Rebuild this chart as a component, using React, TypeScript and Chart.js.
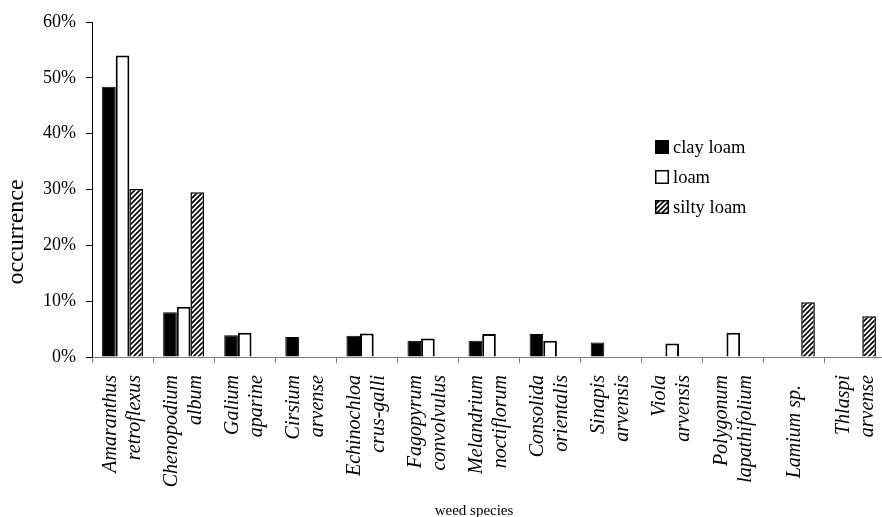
import React, { useEffect, useRef } from "react";
import { Chart, registerables } from "chart.js";

Chart.register(...registerables);

// ---- data ----
const categories: string[][] = [
  ["Amaranthus", "retroflexus"],
  ["Chenopodium", "album"],
  ["Galium", "aparine"],
  ["Cirsium", "arvense"],
  ["Echinochloa", "crus-galli"],
  ["Fagopyrum", "convolvulus"],
  ["Melandrium", "noctiflorum"],
  ["Consolida", "orientalis"],
  ["Sinapis", "arvensis"],
  ["Viola", "arvensis"],
  ["Polygonum", "lapathifolium"],
  ["", "Lamium sp.  "],
  ["Thlaspi", "arvense"],
];
const seriesNames = ["clay loam", "loam", "silty loam"];
const clayLoam: (number | null)[] = [48.4, 8.0, 3.9, 3.6, 3.8, 2.9, 2.9, 4.1, 2.6, null, null, null, null];
const loam: (number | null)[] = [54.0, 9.0, 4.35, null, 4.2, 3.3, 4.1, 2.9, null, 2.4, 4.35, null, null];
const siltyLoam: (number | null)[] = [30.1, 29.5, null, null, null, null, null, null, null, null, null, 9.8, 7.3];
const yTickValues = [0, 10, 20, 30, 40, 50, 60];
const yTitle = "occurrence";
const xTitle = "weed species";

const FAMILY = '"Liberation Serif", "Times New Roman", serif';

function makeHatch(ctx: CanvasRenderingContext2D): CanvasPattern | string {
  const s = 5;
  const c = document.createElement("canvas");
  c.width = s;
  c.height = s;
  const g = c.getContext("2d");
  if (!g) return "#888";
  g.fillStyle = "#fff";
  g.fillRect(0, 0, s, s);
  g.strokeStyle = "#000";
  g.lineWidth = 1.7;
  g.beginPath();
  g.moveTo(-1, s + 1);
  g.lineTo(s + 1, -1);
  g.moveTo(-1, 1);
  g.lineTo(1, -1);
  g.moveTo(s - 1, s + 1);
  g.lineTo(s + 1, s - 1);
  g.stroke();
  return ctx.createPattern(c, "repeat") || "#888";
}

const textPlugin = {
  id: "customText",
  afterDraw(chart: any) {
    const ctx: CanvasRenderingContext2D = chart.ctx;
    ctx.save();
    ctx.fillStyle = "#000";
    // y title
    ctx.save();
    ctx.font = `24px ${FAMILY}`;
    ctx.translate(23, 232);
    ctx.rotate(-Math.PI / 2);
    ctx.textAlign = "center";
    ctx.textBaseline = "alphabetic";
    ctx.fillText(yTitle, 0, 0);
    ctx.restore();
    // x title
    ctx.font = `15px ${FAMILY}`;
    ctx.textAlign = "center";
    ctx.textBaseline = "alphabetic";
    ctx.fillText(xTitle, 474, 515);
    // legend
    ctx.font = `18.5px ${FAMILY}`;
    ctx.textAlign = "left";
    ctx.textBaseline = "middle";
    chart.data.datasets.forEach((ds: any, i: number) => {
      const yc = 147 + 30 * i;
      ctx.fillStyle = ds.backgroundColor;
      ctx.fillRect(655, yc - 7, 14, 14);
      ctx.strokeStyle = "#000";
      ctx.lineWidth = 1.5;
      ctx.strokeRect(655.75, yc - 6.25, 12.5, 12.5);
      ctx.fillStyle = "#000";
      ctx.fillText(ds.label, 673, yc + 1);
    });
    ctx.restore();
  },
};

export default function App() {
  const ref = useRef<HTMLCanvasElement | null>(null);
  useEffect(() => {
    const canvas = ref.current;
    if (!canvas) return;
    const ctx = canvas.getContext("2d")!;
    const hatch = makeHatch(ctx);
    const chart = new Chart(ctx, {
      type: "bar",
      data: {
        labels: categories,
        datasets: [
          {
            label: seriesNames[0],
            data: clayLoam,
            backgroundColor: "#000",
            borderColor: "#000",
            borderWidth: 1,
            categoryPercentage: 0.67,
            barPercentage: 1,
          },
          {
            label: seriesNames[1],
            data: loam,
            backgroundColor: "#fff",
            borderColor: "#000",
            borderWidth: 2,
            categoryPercentage: 0.67,
            barPercentage: 1,
          },
          {
            label: seriesNames[2],
            data: siltyLoam,
            backgroundColor: hatch as any,
            borderColor: "#000",
            borderWidth: 1.5,
            categoryPercentage: 0.67,
            barPercentage: 1,
          },
        ],
      },
      options: {
        responsive: false,
        animation: false,
        layout: { padding: { top: 22, right: 14, bottom: 0, left: 0 } },
        plugins: {
          legend: { display: false },
          tooltip: { enabled: false },
          title: { display: false },
        },
        scales: {
          x: {
            grid: {
              offset: true,
              drawOnChartArea: false,
              drawTicks: true,
              tickLength: 6,
              color: "#808080",
              lineWidth: 1,
            },
            border: { display: true, color: "#808080", width: 1 },
            ticks: {
              autoSkip: false,
              maxRotation: 90,
              minRotation: 90,
              padding: 12,
              labelOffset: -12,
              color: "#000",
              font: (c: any) => ({
                family: FAMILY,
                size: 20,
                style: "italic",
                lineHeight: c.index === 11 ? "12px" : "24px",
              }),
            },
            afterFit(scale: any) {
              scale.height = 160;
              scale.paddingLeft = 0;
              scale.paddingRight = 0;
            },
          } as any,
          y: {
            min: 0,
            max: 60,
            grid: {
              drawOnChartArea: false,
              drawTicks: true,
              tickLength: 6,
              color: "#000",
            },
            border: { display: true, color: "#000", width: 1 },
            ticks: {
              padding: 10,
              color: "#000",
              font: { family: FAMILY, size: 18 },
              callback: (v: any) => `${v}%`,
            },
            afterBuildTicks(scale: any) {
              scale.ticks = yTickValues.map((v) => ({ value: v }));
            },
            afterFit(scale: any) {
              scale.width = 92;
            },
          } as any,
        },
      },
      plugins: [textPlugin],
    });
    return () => chart.destroy();
  }, []);
  return (
    <div
      style={{
        position: "absolute",
        left: 0,
        top: 0,
        width: 882,
        height: 517,
        overflow: "hidden",
        background: "#fff",
      }}
    >
      <canvas ref={ref} width={900} height={517} style={{ width: 900, height: 517, display: "block" }} />
    </div>
  );
}
